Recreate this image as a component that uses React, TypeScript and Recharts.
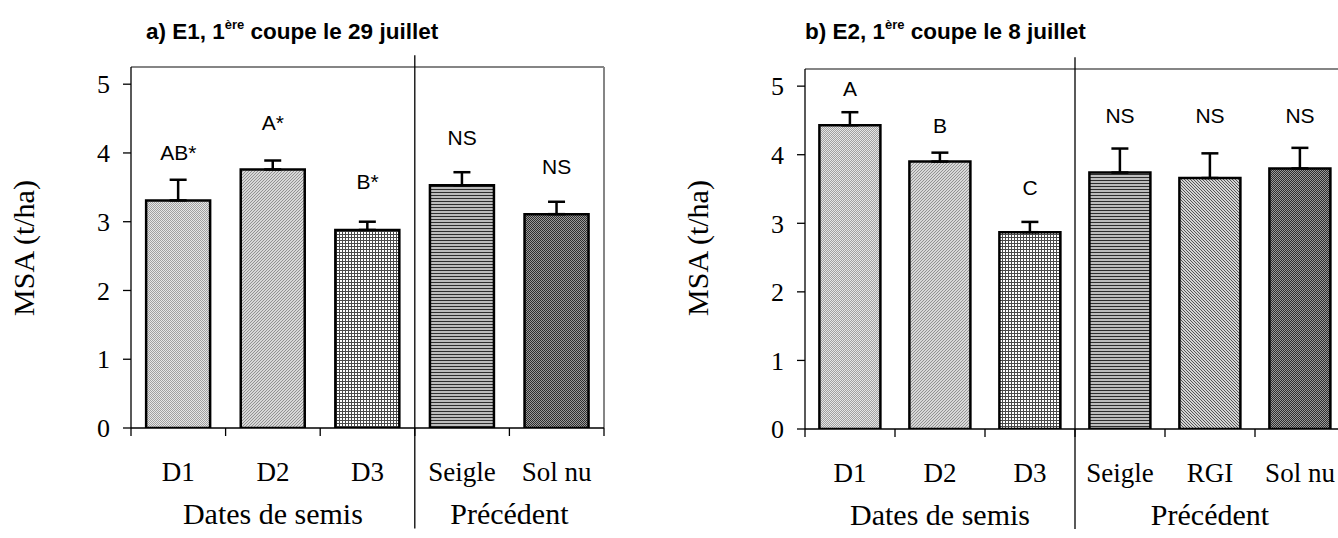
import React from "react";
import {
  ComposedChart,
  Bar,
  Cell,
  ErrorBar,
  Scatter,
  XAxis,
  YAxis,
  ReferenceLine,
} from "recharts";

// ── Data ─────────────────────────────────────────────────────────────────────

// a) E1, first cut on 29 July
const catsA = ["D1", "D2", "D3", "Seigle", "Sol nu"];
const meanA = [3.31, 3.76, 2.88, 3.53, 3.11];
const seA = [0.3, 0.13, 0.12, 0.19, 0.18];
const lettersA = ["AB*", "A*", "B*", "NS", "NS"];
const letterAtA = [4.01, 4.45, 3.58, 4.22, 3.8];

// b) E2, first cut on 8 July
const catsB = ["D1", "D2", "D3", "Seigle", "RGI", "Sol nu"];
const meanB = [4.43, 3.9, 2.87, 3.74, 3.66, 3.8];
const seB = [0.19, 0.13, 0.15, 0.35, 0.36, 0.3];
const lettersB = ["A", "B", "C", "NS", "NS", "NS"];
const letterAtB = [4.96, 4.42, 3.53, 4.58, 4.58, 4.58];

const yTicks = [0, 1, 2, 3, 4, 5];
const Y_MAX = 5.25;

const groupsA = [
  { name: "Dates de semis", from: 0, to: 2 },
  { name: "Précédent", from: 3, to: 4 },
];
const groupsB = [
  { name: "Dates de semis", from: 0, to: 2 },
  { name: "Précédent", from: 3, to: 5 },
];

const fillsA = ["dots", "diag", "grid", "hlines", "dark"];
const fillsB = ["dots", "diag", "grid", "hlines", "rgi", "dark"];

// ── Styles ───────────────────────────────────────────────────────────────────

const SERIF = '"Liberation Serif", "Times New Roman", serif';
const SANS = '"Liberation Sans", Arial, sans-serif';
const H = 538;

function Patterns() {
  return (
    <svg width={0} height={0} style={{ position: "absolute" }}>
      <defs>
        <pattern id="dots" width={2} height={2} patternUnits="userSpaceOnUse">
          <rect width={2} height={2} fill="#e6e6e6" />
          <rect width={1} height={1} fill="#a0a0a0" />
          <rect x={1} y={1} width={1} height={1} fill="#a0a0a0" />
        </pattern>
        <pattern id="diag" width={3} height={3} patternUnits="userSpaceOnUse">
          <rect width={3} height={3} fill="#d8d8d8" />
          <path d="M0,3 L3,0 M-1,1 L1,-1 M2,4 L4,2" stroke="#929292" strokeWidth={1} />
        </pattern>
        <pattern id="grid" width={3} height={3} patternUnits="userSpaceOnUse">
          <rect width={3} height={3} fill="#ffffff" />
          <path d="M0,0.5 H3 M0.5,0 V3" stroke="#4a4a4a" strokeWidth={1} />
        </pattern>
        <pattern id="hlines" width={3} height={3} patternUnits="userSpaceOnUse">
          <rect width={3} height={3} fill="#bcbcbc" />
          <rect width={3} height={1} fill="#2e2e2e" />
        </pattern>
        <pattern id="rgi" width={3} height={3} patternUnits="userSpaceOnUse">
          <rect width={3} height={3} fill="#d4d4d4" />
          <path d="M0,0 L3,3 M-1,2 L1,4 M2,-1 L4,1" stroke="#555" strokeWidth={1} />
        </pattern>
        <pattern id="dark" width={2} height={2} patternUnits="userSpaceOnUse">
          <rect width={2} height={2} fill="#9a9a9a" />
          <rect width={1} height={1} fill="#2e2e2e" />
          <rect x={1} y={1} width={1} height={1} fill="#2e2e2e" />
        </pattern>
      </defs>
    </svg>
  );
}

// ── Panel ────────────────────────────────────────────────────────────────────

interface PanelProps {
  left: number;
  width: number;
  plotLeft: number;
  plotRight: number;
  plotTop: number;
  plotBottom: number;
  cats: string[];
  means: number[];
  se: number[];
  letters: string[];
  letterAt: number[];
  fills: string[];
  groups: { name: string; from: number; to: number }[];
  title: [string, string];
  titleLeft: number;
}

function Panel(p: PanelProps) {
  const rows = p.cats.map((name, i) => ({
    name,
    mean: p.means[i],
    err: [0, p.se[i]],
    lab: p.letterAt[i],
    letter: p.letters[i],
  }));
  const n = p.cats.length;
  const bw = (p.plotRight - p.plotLeft) / n;
  const sepCat = p.cats[p.groups[1].from];

  const renderTick = (t: any) => {
    const { x, y, index, payload } = t;
    const group = p.groups.find((g) => g.from === index);
    return (
      <g>
        <line x1={x - bw / 2} x2={x - bw / 2} y1={y} y2={y + 8} stroke="#000" strokeWidth={1.3} />
        {index === n - 1 && (
          <line x1={x + bw / 2} x2={x + bw / 2} y1={y} y2={y + 8} stroke="#000" strokeWidth={1.3} />
        )}
        <text x={x} y={y + 53} textAnchor="middle" fontFamily={SERIF} fontSize={27} fill="#000">
          {payload.value}
        </text>
        {group && (
          <text
            x={x + ((group.to - group.from) * bw) / 2}
            y={y + 96}
            textAnchor="middle"
            fontFamily={SERIF}
            fontSize={30}
            fill="#000"
          >
            {group.name}
          </text>
        )}
      </g>
    );
  };

  const renderLetter = (s: any) => (
    <text
      x={s.cx}
      y={s.cy + 21 * 0.36}
      textAnchor="middle"
      fontFamily={SANS}
      fontSize={21}
      fill="#000"
    >
      {s.payload.letter}
    </text>
  );

  return (
    <div style={{ position: "absolute", left: p.left, top: 0, width: p.width, height: H }}>
      <div
        style={{
          position: "absolute",
          left: p.titleLeft,
          top: 20,
          font: `bold 22.5px ${SANS}`,
          lineHeight: "23px",
          whiteSpace: "nowrap",
          color: "#000",
        }}
      >
        {p.title[0]}
        <sup style={{ fontSize: 13, lineHeight: 0, verticalAlign: "10px" }}>ère</sup>
        {p.title[1]}
      </div>
      <svg
        width={60}
        height={H}
        style={{ position: "absolute", left: p.plotLeft - 131, top: 0 }}
      >
        <text
          transform={`translate(23,248) rotate(-90)`}
          textAnchor="middle"
          dominantBaseline="central"
          fontFamily={SERIF}
          fontSize={30}
          fill="#000"
        >
          MSA (t/ha)
        </text>
      </svg>
      <ComposedChart
        width={p.width}
        height={H}
        data={rows}
        margin={{ top: p.plotTop, right: p.width - p.plotRight, left: 0, bottom: 0 }}
        barCategoryGap="16%"
        style={{ position: "absolute", left: 0, top: 0 }}
      >
        <XAxis
          dataKey="name"
          interval={0}
          tickLine={false}
          tickSize={0}
          tickMargin={0}
          height={H - p.plotBottom}
          axisLine={{ stroke: "#000", strokeWidth: 1.3 }}
          tick={renderTick}
        />
        <YAxis
          domain={[0, Y_MAX]}
          ticks={yTicks}
          allowDataOverflow
          width={p.plotLeft}
          tickSize={8}
          tickMargin={13}
          axisLine={{ stroke: "#000", strokeWidth: 1.3 }}
          tickLine={{ stroke: "#000", strokeWidth: 1.3 }}
          tick={{ fill: "#000", fontSize: 26, fontFamily: SERIF }}
        />
        <ReferenceLine y={Y_MAX} stroke="#858585" strokeWidth={2} ifOverflow="visible" />
        <ReferenceLine
          x={p.cats[n - 1]}
          position="end"
          stroke="#858585"
          strokeWidth={2}
          ifOverflow="visible"
        />
        <Bar dataKey="mean" stroke="#000" strokeWidth={2.5} isAnimationActive={false}>
          {rows.map((r, i) => (
            <Cell key={r.name} fill={`url(#${p.fills[i]})`} />
          ))}
          <ErrorBar dataKey="err" direction="y" width={8.5} stroke="#000" strokeWidth={2.5} />
        </Bar>
        <Scatter dataKey="lab" shape={renderLetter} isAnimationActive={false} legendType="none" />
        <ReferenceLine
          segment={[
            { x: sepCat, y: 5.42 },
            { x: sepCat, y: -1.46 },
          ]}
          position="start"
          stroke="#000"
          strokeWidth={1.3}
          ifOverflow="visible"
        />
      </ComposedChart>
    </div>
  );
}

// ── App ──────────────────────────────────────────────────────────────────────

export default function App() {
  return (
    <div
      style={{
        position: "fixed",
        left: 0,
        top: 0,
        width: 1338,
        height: H,
        overflow: "hidden",
        background: "#fff",
      }}
    >
      <Patterns />
      <Panel
        left={0}
        width={669}
        plotLeft={131}
        plotRight={604}
        plotTop={67}
        plotBottom={428}
        cats={catsA}
        means={meanA}
        se={seA}
        letters={lettersA}
        letterAt={letterAtA}
        fills={fillsA}
        groups={groupsA}
        title={["a) E1, 1", " coupe le 29 juillet"]}
        titleLeft={146}
      />
      <Panel
        left={669}
        width={720}
        plotLeft={136}
        plotRight={676}
        plotTop={69}
        plotBottom={429}
        cats={catsB}
        means={meanB}
        se={seB}
        letters={lettersB}
        letterAt={letterAtB}
        fills={fillsB}
        groups={groupsB}
        title={["b) E2, 1", " coupe le 8 juillet"]}
        titleLeft={136}
      />
    </div>
  );
}
